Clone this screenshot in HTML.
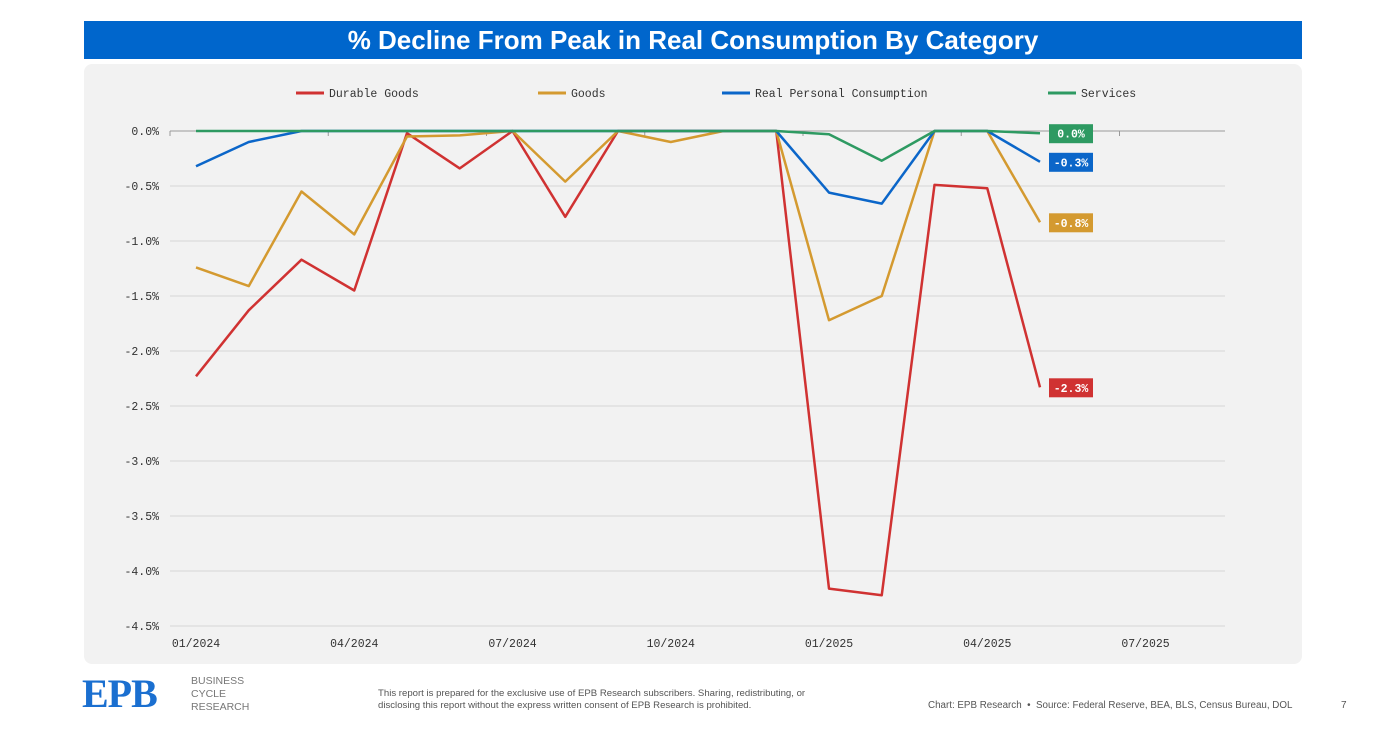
<!DOCTYPE html>
<html><head><meta charset="utf-8"><style>
body{margin:0;width:1384px;height:744px;background:#fff;font-family:"Liberation Sans",sans-serif;position:relative;overflow:hidden}
.title{position:absolute;left:84px;top:21px;width:1218px;height:38px;background:#0066cc;color:#fff;font-weight:bold;font-size:26px;text-align:center;line-height:38px}
.panel{position:absolute;left:84px;top:64px;width:1218px;height:600px;background:#f2f2f2;border-radius:8px}
svg{position:absolute;left:0;top:0}
.mono{font-family:"Liberation Mono",monospace}
</style></head><body>
<div class="title">% Decline From Peak in Real Consumption By Category</div>
<div class="panel"></div>
<svg id="chart" width="1384" height="744"></svg>
<div style="position:absolute;left:82px;top:674px;color:#1a6fd0;font-family:'Liberation Serif',serif;font-weight:bold;font-size:40px;letter-spacing:-1px;line-height:40px">EPB</div>
<div style="position:absolute;left:191px;top:675px;color:#777;font-size:10.5px;line-height:13px">BUSINESS<br>CYCLE<br>RESEARCH</div>
<div style="position:absolute;left:378px;top:688px;color:#555;font-size:9.6px;line-height:12px">This report is prepared for the exclusive use of EPB Research subscribers. Sharing, redistributing, or<br>disclosing this report without the express written consent of EPB Research is prohibited.</div>
<div style="position:absolute;left:928px;top:700px;color:#555;font-size:9.8px">Chart: EPB Research &nbsp;•&nbsp; Source: Federal Reserve, BEA, BLS, Census Bureau, DOL</div>
<div style="position:absolute;left:1341px;top:700px;color:#555;font-size:10px">7</div>
<script>
const months=["01/2024","02/2024","03/2024","04/2024","05/2024","06/2024","07/2024","08/2024","09/2024","10/2024","11/2024","12/2024","01/2025","02/2025","03/2025","04/2025","05/2025"];
const durable=[-2.23,-1.63,-1.17,-1.45,-0.02,-0.34,0,-0.78,0,0,0,0,-4.16,-4.22,-0.49,-0.52,-2.33];
const goods=[-1.24,-1.41,-0.55,-0.94,-0.05,-0.04,0,-0.46,0,-0.10,0,0,-1.72,-1.50,0,0,-0.83];
const pce=[-0.32,-0.10,0,0,0,0,0,0,0,0,0,0,-0.56,-0.66,0,0,-0.28];
const services=[0,0,0,0,0,0,0,0,0,0,0,0,-0.03,-0.27,0,0,-0.02];
const yTicks=[0,-0.5,-1,-1.5,-2,-2.5,-3,-3.5,-4,-4.5];
const xTickLabels=["01/2024","04/2024","07/2024","10/2024","01/2025","04/2025","07/2025"];
const xTickIdx=[0,3,6,9,12,15,18];
const NS="http://www.w3.org/2000/svg",svg=document.getElementById('chart');
const X=i=>196+i*52.75, Y=v=>131-v*110;
function mk(t,a,txt){const e=document.createElementNS(NS,t);for(const k in a)e.setAttribute(k,a[k]);if(txt!=null)e.textContent=txt;svg.appendChild(e);return e;}
yTicks.forEach(v=>{
 const g=mk('line',{x1:170,x2:1225,y1:Y(v),y2:Y(v),stroke:v===0?'#999':'#d6d6d6','stroke-width':1});
 
 
 const t=mk('text',{x:159,y:Y(v)+4,'text-anchor':'end','font-size':11.5,fill:'#333',class:'mono'},v.toFixed(1)+'%');
 
 
});
xTickIdx.forEach((idx,k)=>{
 const tk=mk('line',{x1:X(idx)-26,x2:X(idx)-26,y1:131,y2:136,stroke:'#999'});
 
 
 const t=mk('text',{x:X(idx),y:647,'text-anchor':'middle','font-size':11.5,fill:'#333',class:'mono'},xTickLabels[k]);
 
 
});
const series=[["durable-goods",durable,"#d03232","Durable Goods",296],["goods",goods,"#d49a30","Goods",538],["real-personal-consumption",pce,"#0b66c9","Real Personal Consumption",722],["services",services,"#2e9a62","Services",1048]];
series.forEach(([n,d,c,lab,lx])=>{
 const p=mk('polyline',{points:d.map((v,i)=>X(i)+','+Y(v)).join(' '),fill:'none',stroke:c,'stroke-width':2.5,'stroke-linejoin':'round'});
 
 
 const ll=mk('line',{x1:lx,x2:lx+28,y1:93,y2:93,stroke:c,'stroke-width':3});
 
 
 const lt=mk('text',{x:lx+33,y:97,'font-size':11.5,fill:'#333',class:'mono'},lab);
 
 
});
const labs=[[services,"#2e9a62"],[pce,"#0b66c9"],[goods,"#d49a30"],[durable,"#d03232"]];
labs.forEach(([d,c])=>{
 const v=d[d.length-1],y=Y(v);
 const r=mk('rect',{x:1049,y:y-9,width:44,height:19,fill:c});
 
 
 const t=mk('text',{x:1071,y:y+4.5,'text-anchor':'middle','font-size':11.5,'font-weight':'bold',fill:'#fff',class:'mono'},(v<=-0.05?'-':'')+Math.abs(v).toFixed(1)+'%');
 
 
});
</script>
</body></html>
